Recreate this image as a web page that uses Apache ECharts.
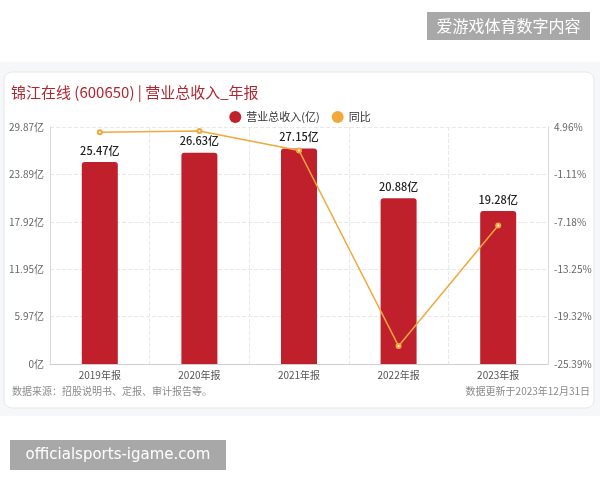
<!DOCTYPE html>
<html>
<head>
<meta charset="utf-8">
<script src="https://cdn.jsdelivr.net/npm/echarts@6/dist/echarts.min.js"></script>
<style>
html,body{margin:0;padding:0;background:#fff;}
#c{width:600px;height:480px;}
</style>
</head>
<body>
<div id="c"></div>
<script>
var categories = ['2019年报', '2020年报', '2021年报', '2022年报', '2023年报'];
var revenue = [25.47, 26.63, 27.15, 20.88, 19.28];
var yoy = [4.3, 4.45, 1.95, -23.09, -7.66];
var leftTicks = ['0亿', '5.97亿', '11.95亿', '17.92亿', '23.89亿', '29.87亿'];
var rightTicks = ['-25.39%', '-19.32%', '-13.25%', '-7.18%', '-1.11%', '4.96%'];
var leftMin = 0, leftMax = 29.87, rightMin = -25.39, rightMax = 4.96;

var chart = echarts.init(document.getElementById('c'), null, {renderer: 'canvas'});
var font = '"Noto Sans CJK SC", "Noto Sans", sans-serif';
var lInt = (leftMax - leftMin) / 5, rInt = (rightMax - rightMin) / 5;

chart.setOption({
  backgroundColor: '#ffffff',
  textStyle: {fontFamily: font},
  graphic: [
    {type: 'rect', z: -10, shape: {x: 0, y: 62, width: 600, height: 354}, style: {fill: '#f6f7f9'}},
    {type: 'rect', z: -9, shape: {x: 4, y: 72, width: 590, height: 336, r: 8}, style: {fill: '#ffffff', stroke: '#e4e7ed', lineWidth: 1}},
    {type: 'text', left: 12, top: 386, style: {text: '数据来源：招股说明书、定报、审计报告等。', fill: '#8a8a8a', font: '10px ' + font}},
    {type: 'text', right: 10, top: 386, style: {text: '数据更新于2023年12月31日', fill: '#8a8a8a', font: '10px ' + font}},
    {type: 'group', left: 427, top: 12, children: [
      {type: 'rect', shape: {x: 0, y: 0, width: 163, height: 28}, style: {fill: '#a8a8a8'}},
      {type: 'text', x: 81.5, y: 14, style: {text: '爱游戏体育数字内容', fill: '#ffffff', font: '16px ' + font, align: 'center', verticalAlign: 'middle'}}
    ]},
    {type: 'group', left: 10, top: 440, children: [
      {type: 'rect', shape: {x: 0, y: 0, width: 216, height: 30}, style: {fill: '#a8a8a8'}},
      {type: 'text', x: 108, y: 15, style: {text: 'officialsports-igame.com', fill: '#ffffff', font: '15px "DejaVu Sans", sans-serif', align: 'center', verticalAlign: 'middle'}}
    ]}
  ],
  title: {
    text: '锦江在线 (600650) | 营业总收入_年报',
    left: 6, top: 80,
    textStyle: {color: '#b3262f', fontSize: 15, fontWeight: 'normal', fontFamily: font}
  },
  legend: {
    top: 106, left: 'center',
    icon: 'circle', itemWidth: 12, itemHeight: 12, itemGap: 12,
    textStyle: {fontSize: 11, color: '#333'},
    data: ['营业总收入(亿)', '同比']
  },
  grid: {left: 50, right: 52, top: 127, bottom: 116},
  xAxis: {
    type: 'category', data: categories,
    axisLine: {lineStyle: {color: '#cfcfcf'}},
    axisTick: {show: false},
    axisLabel: {color: '#555', fontSize: 10, margin: 6},
    splitLine: {show: true, lineStyle: {color: '#e8e8e8', type: 'dashed'}}
  },
  yAxis: [
    {
      type: 'value', min: leftMin, max: leftMax, interval: lInt,
      axisLine: {show: true, lineStyle: {color: '#d8d8d8'}},
      axisTick: {show: false},
      axisLabel: {color: '#666', fontSize: 10, margin: 6, formatter: function (v) { return leftTicks[Math.round((v - leftMin) / lInt)]; }},
      splitLine: {lineStyle: {color: '#e8e8e8', type: 'dashed'}}
    },
    {
      type: 'value', min: rightMin, max: rightMax, interval: rInt,
      axisLine: {show: true, lineStyle: {color: '#d8d8d8'}},
      axisTick: {show: false},
      axisLabel: {color: '#666', fontSize: 10, margin: 6, formatter: function (v) { return rightTicks[Math.round((v - rightMin) / rInt)]; }},
      splitLine: {show: false}
    }
  ],
  series: [
    {
      name: '营业总收入(亿)', type: 'bar', data: revenue, barWidth: 36,
      itemStyle: {color: '#c0202b', borderRadius: [3, 3, 0, 0]},
      label: {show: true, position: 'top', distance: 6, color: '#222', fontSize: 11, fontWeight: 500, formatter: function (p) { return p.value.toFixed(2) + '亿'; }}
    },
    {
      name: '同比', type: 'line', yAxisIndex: 1, data: yoy,
      symbol: 'emptyCircle', symbolSize: 4,
      lineStyle: {color: '#f2a83a', width: 1.5},
      itemStyle: {color: '#f2a83a'}
    }
  ]
});
</script>
</body>
</html>
